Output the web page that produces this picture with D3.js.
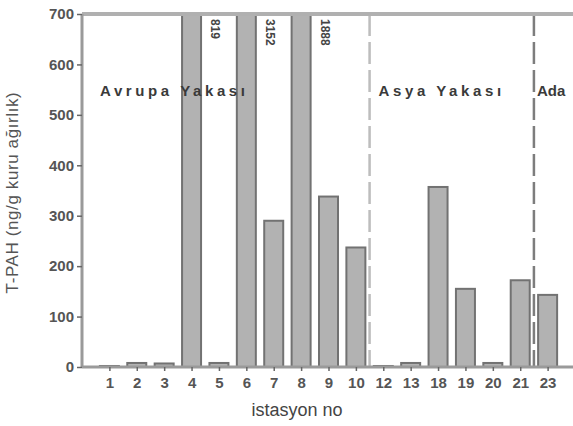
<!DOCTYPE html>
<html>
<head>
<meta charset="utf-8">
<script src="https://cdn.jsdelivr.net/npm/d3@7"></script>
<style>
  body { margin: 0; background: #fff; }
  text { font-family: "Liberation Sans", Arial, sans-serif; }
</style>
</head>
<body>
<div id="chart"></div>
<script>
// station numbers and T-PAH values (bars above 700 are cut off)
var stations = ["1","2","3","4","5","6","7","8","9","10","12","13","18","19","20","21","23"];
var tpah = [2, 8, 7, 819, 8, 3152, 290, 1888, 338, 237, 2, 8, 357, 155, 8, 172, 143];
var yTicks = [0, 100, 200, 300, 400, 500, 600, 700];
var cutLabels = [{ st: "4", text: "819" }, { st: "6", text: "3152" }, { st: "8", text: "1888" }];
var regions = [{ after: "10", name: "Asya Yakası" }, { after: "21", name: "Ada" }];

var margin = { top: 14, right: -2, bottom: 59, left: 82 },
  width = 573 - margin.left - margin.right,
  height = 426 - margin.top - margin.bottom;

var svg = d3.select("#chart")
  .append("svg")
  .attr("width", 573)
  .attr("height", 426)
  .append("g")
  .attr("transform", "translate(" + margin.left + "," + margin.top + ")");

var x = d3.scalePoint()
  .domain(stations)
  .range([0, width])
  .padding(1);

var y = d3.scaleLinear()
  .domain([0, 700])
  .range([height, 0])
  .clamp(true);

var barW = 19;

// bars
svg.append("g")
  .selectAll("rect")
  .data(stations)
  .enter()
  .append("rect")
  .attr("x", function (d) { return x(d) - barW / 2; })
  .attr("y", function (d, i) { return y(tpah[i]); })
  .attr("width", barW)
  .attr("height", function (d, i) { return height - y(tpah[i]); })
  .style("fill", "#b2b2b2")
  .style("stroke", "#727272")
  .style("stroke-width", 2);

// dashed separators
var step = x.step();
svg.selectAll(".sep")
  .data(regions)
  .enter()
  .append("line")
  .attr("x1", function (d) { return x(d.after) + step / 2; })
  .attr("x2", function (d) { return x(d.after) + step / 2; })
  .attr("y1", 0)
  .attr("y2", height)
  .style("stroke", function (d, i) { return i == 0 ? "#bdbdbd" : "#7d7d7d"; })
  .style("stroke-width", 2.5)
  .style("stroke-dasharray", "22,6");

// frame: top line and axes
svg.append("line")
  .attr("x1", 0).attr("x2", width)
  .attr("y1", 0).attr("y2", 0)
  .style("stroke", "#b0b0b0").style("stroke-width", 4);

var yAxis = svg.append("g")
  .call(d3.axisLeft(y).tickValues(yTicks).tickSize(5).tickPadding(3));
var xAxis = svg.append("g")
  .attr("transform", "translate(0," + height + ")")
  .call(d3.axisBottom(x).tickSize(4).tickPadding(6));

[yAxis, xAxis].forEach(function (ax) {
  ax.select(".domain").style("stroke", "#9a9a9a").style("stroke-width", 3);
  ax.selectAll(".tick line").style("stroke", "#666").style("stroke-width", 1.5);
  ax.selectAll("text")
    .style("font-size", "15px")
    .style("fill", "#555")
    .style("font-weight", "bold");
});
yAxis.select(".domain").attr("d", "M0," + height + "V0");
xAxis.select(".domain").attr("d", "M0,0H" + width);

// cut-off values written beside the bars
svg.selectAll(".cut")
  .data(cutLabels)
  .enter()
  .append("text")
  .attr("transform", function (d) { return "translate(" + (x(d.st) + 16) + ",5) rotate(90)"; })
  .attr("dy", "-0.3em")
  .style("font-size", "12px")
  .style("font-weight", "bold")
  .style("fill", "#444")
  .text(function (d) { return d.text; });

// region names
svg.append("text")
  .attr("x", 18).attr("y", 82)
  .style("font-size", "15px").style("font-weight", "bold").style("fill", "#3a3a3a")
  .style("letter-spacing", "3.6px")
  .text("Avrupa Yakası");

svg.selectAll(".reg")
  .data(regions)
  .enter()
  .append("text")
  .attr("x", function (d) { return x(d.after) + step / 2 + (d.name == "Ada" ? 3 : 9); })
  .attr("y", 82)
  .style("font-size", "15px").style("font-weight", "bold").style("fill", "#3a3a3a")
  .style("letter-spacing", function (d) { return d.name == "Ada" ? "0px" : "3.6px"; })
  .text(function (d) { return d.name; });

// axis titles
svg.append("text")
  .attr("x", 215).attr("y", height + 49)
  .attr("text-anchor", "middle")
  .style("font-size", "18px").style("fill", "#444")
  .text("istasyon no");

svg.append("text")
  .attr("transform", "translate(-64," + (height / 2 + 2) + ") rotate(-90)")
  .attr("text-anchor", "middle")
  .style("font-size", "17px").style("fill", "#555")
  .style("letter-spacing", "0.6px")
  .text("T-PAH (ng/g kuru ağırlık)");
</script>
</body>
</html>
